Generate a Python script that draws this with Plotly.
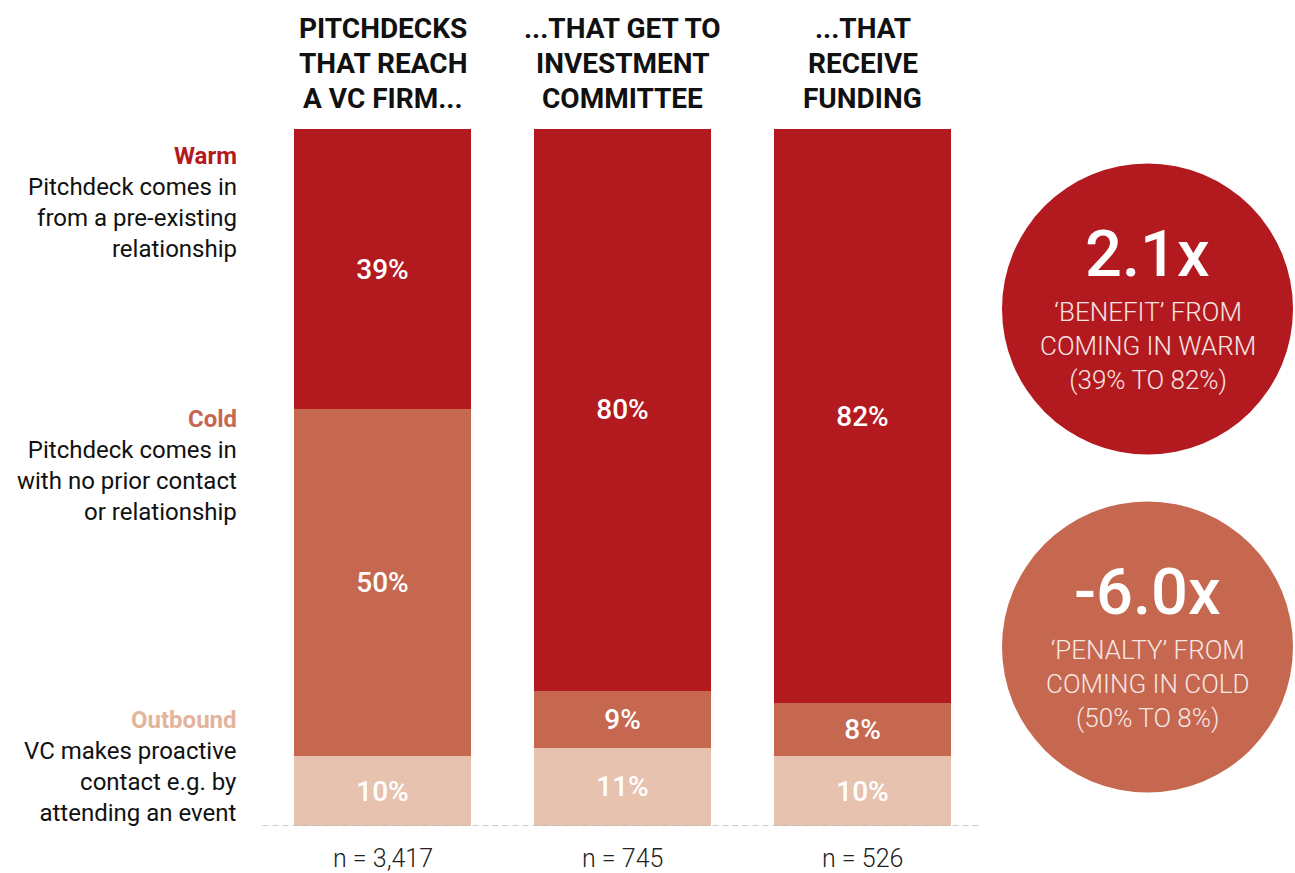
import plotly.graph_objects as go

W, H = 1295, 873

# ---- data ----
stages = ["PITCHDECKS<br>THAT REACH<br>A VC FIRM...",
          "...THAT GET TO<br>INVESTMENT<br>COMMITTEE",
          "...THAT<br>RECEIVE<br>FUNDING"]
sample_sizes = ["n = 3,417", "n = 745", "n = 526"]
series = ["Outbound", "Cold", "Warm"]
# segment shares as drawn (bar heights)
outbound_share = [10.0, 11.2, 10.0]
cold_share = [49.8, 8.2, 7.6]
warm_share = [40.2, 80.6, 82.4]
# printed labels
outbound_label = [10, 11, 10]
cold_label = [50, 9, 8]
warm_label = [39, 80, 82]
series_desc = {
    "Warm": "Pitchdeck comes in<br>from a pre-existing<br>relationship",
    "Cold": "Pitchdeck comes in<br>with no prior contact<br>or relationship",
    "Outbound": "VC makes proactive<br>contact e.g. by<br>attending an event",
}
callouts = [("2.1x", "‘BENEFIT’ FROM<br>COMING IN WARM<br>(39% TO 82%)"),
            ("-6.0x", "‘PENALTY’ FROM<br>COMING IN COLD<br>(50% TO 8%)")]

# ---- styles ----
C_WARM = "#B31A1F"
C_COLD = "#C6674F"
C_OUT = "#E6C2AF"
C_OUT_TXT = "#E3B49C"
BODY = "Roboto"
HEAD = "Roboto"


def px(x):
    return x / W


def py(y):
    return 1 - y / H


fig = go.Figure()
for name, vals, labs, col in [("Outbound", outbound_share, outbound_label, C_OUT),
                              ("Cold", cold_share, cold_label, C_COLD),
                              ("Warm", warm_share, warm_label, C_WARM)]:
    fig.add_trace(go.Bar(
        x=stages, y=vals, name=name, marker=dict(color=col, line=dict(width=0)),
        text=[f"{v}%" for v in labs], textposition="inside", insidetextanchor="middle",
        textangle=0, constraintext="none",
        textfont=dict(family=BODY, size=28, color="white", weight=500),
        hoverinfo="skip",
    ))

fig.update_layout(
    width=W, height=H, barmode="stack", barnorm="percent", bargap=0.2625,
    margin=dict(l=0, r=0, t=0, b=0), paper_bgcolor="white", plot_bgcolor="white",
    showlegend=False,
    xaxis=dict(domain=[px(262.5), px(982.5)], showticklabels=False, showgrid=False,
               zeroline=False, showline=False, ticks=""),
    yaxis=dict(domain=[py(826), py(129)], range=[0, 100], showticklabels=False,
               showgrid=False, zeroline=False, showline=False, ticks=""),
)

# dashed baseline
fig.add_shape(type="line", xref="x domain", x0=0, x1=1, yref="y", y0=0, y1=0,
              line=dict(color="#BBBBBB", width=1.5, dash="6px,4px"))

# headers (one annotation per line for exact leading) and n labels
for s, n in zip(stages, sample_sizes):
    for i, line in enumerate(s.split("<br>")):
        fig.add_annotation(x=s, xref="x", y=py(29 + 34.5 * i), yref="paper", text=line,
                           showarrow=False, xanchor="center", yanchor="middle",
                           font=dict(family=HEAD, size=28, color="#111111", weight="bold"))
    fig.add_annotation(x=s, xref="x", y=py(858), yref="paper", text=n, showarrow=False,
                       xanchor="center", yanchor="middle",
                       font=dict(family=BODY, size=25, color="#222222", weight=300))

# left legend text
legend_pos = {"Warm": (156, C_WARM), "Cold": (419, C_COLD), "Outbound": (720, C_OUT_TXT)}
for name in ["Warm", "Cold", "Outbound"]:
    y0, col = legend_pos[name]
    fig.add_annotation(x=px(239), xref="paper", y=py(y0), yref="paper",
                       text=f"<b>{name}</b>", showarrow=False, xanchor="right",
                       yanchor="middle", font=dict(family=BODY, size=24, color=col))
    fig.add_annotation(x=px(239), xref="paper", y=py(y0 + 15), yref="paper",
                       text=series_desc[name], showarrow=False, xanchor="right",
                       yanchor="top", align="right",
                       font=dict(family=BODY, size=24, color="#111111"))

# callout circles
circles = [(1147.5, 309, 145.5, C_WARM), (1147.5, 647, 145.5, C_COLD)]
for (cx, cy, r, col), (big, small) in zip(circles, callouts):
    fig.add_shape(type="circle", xref="paper", yref="paper",
                  x0=px(cx - r), x1=px(cx + r), y0=py(cy + r), y1=py(cy - r),
                  fillcolor=col, line=dict(width=0))
    fig.add_annotation(x=px(cx), xref="paper", y=py(cy - 55), yref="paper", text=big,
                       showarrow=False, xanchor="center", yanchor="middle",
                       font=dict(family=BODY, size=65, color="white", weight=500))
    fig.add_annotation(x=px(cx), xref="paper", y=py(cy + 37), yref="paper", text=small,
                       showarrow=False, xanchor="center", yanchor="middle", align="center",
                       font=dict(family=BODY, size=26, color="#F7E6E4", weight=300))

fig.write_html("out.html", config={"displayModeBar": False},
               post_script="document.body.style.margin='0px';")
